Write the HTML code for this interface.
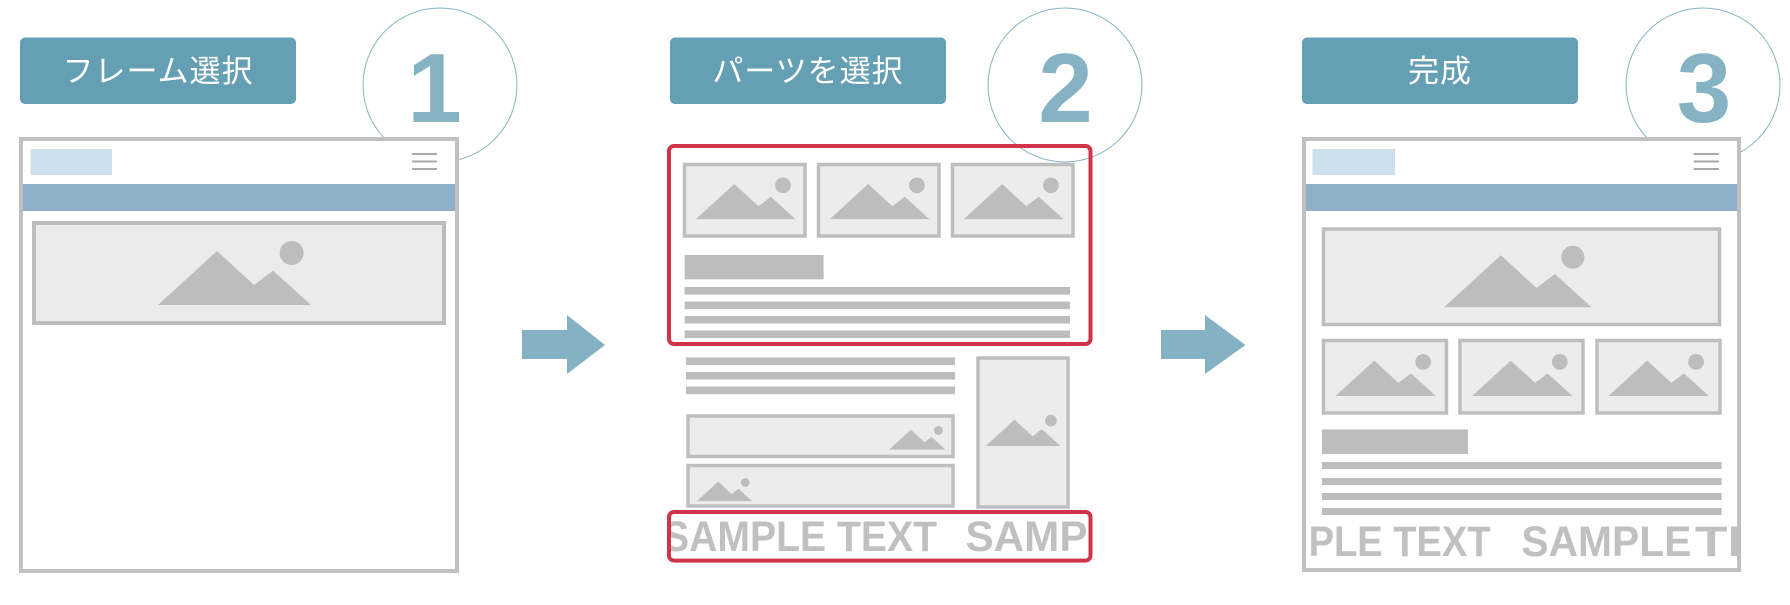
<!DOCTYPE html>
<html><head><meta charset="utf-8"><style>
html,body{margin:0;padding:0;background:#fff;width:1790px;height:605px;overflow:hidden}
svg{display:block}
.lbl{font-family:"Liberation Sans","Noto Sans CJK JP",sans-serif;font-size:31px;fill:#fff;letter-spacing:1px}
.num{font-family:"Liberation Sans",sans-serif;font-weight:bold;font-size:98px;fill:#86b3c4}
.st{font-family:"Liberation Sans",sans-serif;font-weight:bold;font-size:43px;fill:#c0c0c0}
</style></head><body>
<svg width="1790" height="605" viewBox="0 0 1790 605" xmlns="http://www.w3.org/2000/svg">
<defs>
<symbol id="m" viewBox="0 -10 153 64">
<polygon points="0,54 59,0 96,34 115,19.5 153,54" fill="#bdbdbd"/>
<circle cx="133.6" cy="2" r="12" fill="#bdbdbd"/>
</symbol>
<clipPath id="c2"><rect x="671" y="512" width="417" height="48"/></clipPath>
<clipPath id="c3"><rect x="1306" y="515" width="431" height="55"/></clipPath>
</defs>

<rect x="20" y="37.5" width="276" height="66.5" rx="5" fill="#649fb4"/>
<text class="lbl" x="158" y="82" text-anchor="middle">フレーム選択</text>
<rect x="670" y="37.5" width="276" height="66.5" rx="5" fill="#649fb4"/>
<text class="lbl" x="808" y="82" text-anchor="middle">パーツを選択</text>
<rect x="1302" y="37.5" width="276" height="66.5" rx="5" fill="#649fb4"/>
<text class="lbl" x="1440" y="82" text-anchor="middle">完成</text>

<circle cx="440" cy="85" r="77" fill="none" stroke="#86b3c6" stroke-width="1"/>
<text class="num" x="434.5" y="122" text-anchor="middle">1</text>
<circle cx="1065" cy="85" r="77" fill="none" stroke="#86b3c6" stroke-width="1"/>
<text class="num" x="1065.5" y="122" text-anchor="middle">2</text>
<circle cx="1703" cy="85" r="77" fill="none" stroke="#86b3c6" stroke-width="1"/>
<text class="num" x="1704" y="122" text-anchor="middle">3</text>

<rect x="21" y="139" width="436" height="432" fill="#fff" stroke="#c0c0c0" stroke-width="4"/>
<rect x="30.6" y="149" width="81.4" height="26" fill="#cfe0ed"/>
<g stroke="#aaa" stroke-width="2"><line x1="412" y1="154" x2="437" y2="154"/><line x1="412" y1="161.5" x2="437" y2="161.5"/><line x1="412" y1="169" x2="437" y2="169"/></g>
<rect x="23" y="184" width="432" height="27" fill="#8eafc8"/>
<rect x="34" y="223" width="410" height="100" fill="#ebebeb" stroke="#bdbdbd" stroke-width="4"/>
<use href="#m" x="158" y="241" width="153" height="64"/>

<polygon points="522,330 567,330 567,315 605,345 567,374 567,359 522,359" fill="#84b1c3"/>

<g fill="#ececec" stroke="#bebebe" stroke-width="3.5">
<rect x="684.5" y="164.5" width="120.5" height="71.5"/>
<rect x="818.5" y="164.5" width="120.5" height="71.5"/>
<rect x="952.5" y="164.5" width="120.5" height="71.5"/>
<rect x="688" y="416" width="265" height="40.5"/>
<rect x="688" y="465.5" width="265" height="40.5"/>
<rect x="978" y="358" width="90" height="149"/>
</g>
<use href="#m" x="695.7" y="177.5" width="100" height="41.8"/>
<use href="#m" x="829.6" y="177.5" width="100" height="41.8"/>
<use href="#m" x="963.6" y="177.5" width="100" height="41.8"/>
<use href="#m" x="889" y="426" width="56.6" height="23.7"/>
<use href="#m" x="696.8" y="478" width="55.5" height="23.3"/>
<use href="#m" x="985.8" y="414.8" width="74.6" height="31.2"/>
<g fill="#bdbdbd">
<rect x="684.6" y="255" width="139" height="24.4"/>
<rect x="684.6" y="287" width="385.4" height="7.6"/>
<rect x="684.6" y="301.6" width="385.4" height="7.6"/>
<rect x="684.6" y="316" width="385.4" height="7.6"/>
<rect x="684.6" y="330.4" width="385.4" height="7.6"/>
<rect x="686" y="357.4" width="269" height="7.6"/>
<rect x="686" y="372" width="269" height="7.6"/>
<rect x="686" y="386.5" width="269" height="7.6"/>
</g>
<g clip-path="url(#c2)">
<text class="st" x="663" y="551" textLength="274" lengthAdjust="spacingAndGlyphs">SAMPLE TEXT</text>
<text class="st" x="965.5" y="551" textLength="122" lengthAdjust="spacingAndGlyphs">SAMP</text>
</g>
<rect x="669" y="146" width="421.5" height="198" rx="5" fill="none" stroke="#d13449" stroke-width="4"/>
<rect x="669" y="512" width="421.5" height="48.6" rx="5" fill="none" stroke="#d13449" stroke-width="4"/>

<polygon points="1161,330 1205,330 1205,315 1245.5,345 1205,374 1205,359 1161,359" fill="#84b1c3"/>

<rect x="1304" y="139" width="435" height="431" fill="#fff" stroke="#c0c0c0" stroke-width="4"/>
<rect x="1312.5" y="149" width="82.5" height="26" fill="#cfe0ed"/>
<g stroke="#aaa" stroke-width="2"><line x1="1693.6" y1="154" x2="1719" y2="154"/><line x1="1693.6" y1="161.5" x2="1719" y2="161.5"/><line x1="1693.6" y1="169" x2="1719" y2="169"/></g>
<rect x="1306" y="184" width="431" height="27" fill="#8eafc8"/>
<g fill="#ececec" stroke="#bebebe" stroke-width="3.5">
<rect x="1323.5" y="229" width="396" height="95.5"/>
<rect x="1323.5" y="340.5" width="123" height="72.5"/>
<rect x="1460" y="340.5" width="123" height="72.5"/>
<rect x="1597" y="340.5" width="123" height="72.5"/>
</g>
<use href="#m" x="1444" y="245.6" width="147.5" height="61.7"/>
<use href="#m" x="1335.4" y="354" width="100.6" height="42"/>
<use href="#m" x="1472" y="354" width="100.6" height="42"/>
<use href="#m" x="1608.3" y="354" width="100.6" height="42"/>
<g fill="#bdbdbd">
<rect x="1322" y="429.4" width="146" height="24.6"/>
<rect x="1322" y="462" width="399.6" height="7"/>
<rect x="1322" y="478" width="399.6" height="7"/>
<rect x="1322" y="493" width="399.6" height="7"/>
<rect x="1322" y="508" width="399.6" height="7"/>
</g>
<g clip-path="url(#c3)">
<text class="st" x="1308.6" y="556" textLength="182" lengthAdjust="spacingAndGlyphs">PLE TEXT</text>
<text class="st" x="1521.4" y="556" textLength="170" lengthAdjust="spacingAndGlyphs">SAMPLE</text>
<text class="st" x="1695" y="556" textLength="68" lengthAdjust="spacingAndGlyphs">TE</text>
</g>
</svg>
</body></html>
